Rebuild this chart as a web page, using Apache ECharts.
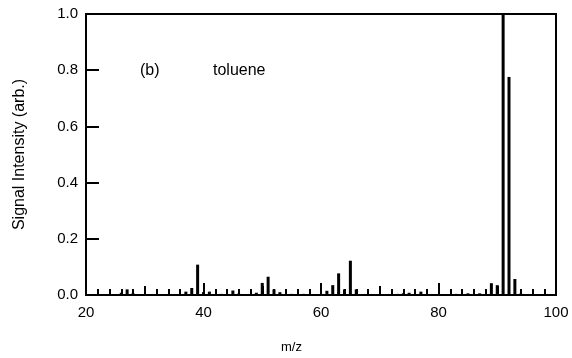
<!DOCTYPE html>
<html>
<head>
<meta charset="utf-8">
<script src="https://cdn.jsdelivr.net/npm/echarts@6/dist/echarts.min.js"></script>
<style>html,body{margin:0;padding:0;background:#fff}#c{width:572px;height:358px}</style>
</head>
<body>
<div id="c"></div>
<script>
// m/z values and relative signal intensities
var mz = [26, 27, 28, 37, 38, 39, 40, 41, 43, 45, 46, 49, 50, 51, 52, 53, 55, 57, 61, 62, 63, 64, 65, 66, 73, 74, 75, 77, 83, 85, 87, 89, 90, 91, 92, 93, 94];
var intensity = [0.008, 0.02, 0.006, 0.012, 0.025, 0.108, 0.01, 0.012, 0.004, 0.016, 0.005, 0.008, 0.043, 0.065, 0.02, 0.01, 0.004, 0.004, 0.015, 0.035, 0.077, 0.02, 0.122, 0.02, 0.004, 0.006, 0.008, 0.012, 0.004, 0.006, 0.006, 0.042, 0.035, 1.0, 0.776, 0.057, 0.005];
var xTicks = [20, 40, 60, 80, 100];
var yTicks = [0.0, 0.2, 0.4, 0.6, 0.8, 1.0];
var panelLabel = '(b)';
var compoundName = 'toluene';
var xTitle = 'm/z';
var yTitle = 'Signal Intensity (arb.)';

var FONT = 'Liberation Sans, Arial, sans-serif';
var data = mz.map(function (m, i) { return [m, intensity[i]]; });

var chart = echarts.init(document.getElementById('c'), null, {renderer: 'canvas'});
chart.setOption({
  animation: false,
  backgroundColor: '#fff',
  grid: {left: 86, right: 16, top: 14, bottom: 63, show: true,
    borderColor: '#000', borderWidth: 2, backgroundColor: 'transparent'},
  xAxis: [{
    type: 'value', min: xTicks[0], max: xTicks[xTicks.length - 1], interval: 20,
    axisLine: {show: true, onZero: false, lineStyle: {color: '#000', width: 2}},
    axisTick: {show: true, inside: true, length: 12, lineStyle: {color: '#000', width: 2}},
    minorTick: {show: true, splitNumber: 10, length: 6, lineStyle: {color: '#000', width: 2}},
    axisLabel: {fontFamily: FONT, fontSize: 15, color: '#000', margin: 10},
    splitLine: {show: false}, minorSplitLine: {show: false}
  }, {
    type: 'value', min: xTicks[0], max: xTicks[xTicks.length - 1], interval: 10,
    position: 'bottom',
    axisLine: {show: false, onZero: false},
    axisTick: {show: true, inside: true, length: 9, lineStyle: {color: '#000', width: 2}},
    axisLabel: {show: false}, splitLine: {show: false}
  }],
  yAxis: [{
    type: 'value', min: yTicks[0], max: yTicks[yTicks.length - 1], interval: 0.2,
    name: yTitle, nameLocation: 'middle', nameGap: 58,
    nameTextStyle: {fontFamily: FONT, fontSize: 16, color: '#000'},
    axisLine: {show: true, onZero: false, lineStyle: {color: '#000', width: 2}},
    axisTick: {show: true, inside: true, length: 13, lineStyle: {color: '#000', width: 2}},
    axisLabel: {fontFamily: FONT, fontSize: 15, color: '#000', margin: 8,
      formatter: function (v) { return v.toFixed(1); }},
    splitLine: {show: false}
  }],
  series: [{
    type: 'bar', xAxisIndex: 0, yAxisIndex: 0,
    data: data, barWidth: 3,
    itemStyle: {color: '#000'}
  }],
  graphic: [
    {type: 'text', left: 140, top: 63, style: {text: panelLabel, font: '16px ' + FONT, fill: '#000'}},
    {type: 'text', left: 213, top: 63, style: {text: compoundName, font: '16px ' + FONT, fill: '#000'}},
    {type: 'text', left: 281, top: 341, style: {text: xTitle, font: '13px ' + FONT, fill: '#000'}}
  ]
});
</script>
</body>
</html>
